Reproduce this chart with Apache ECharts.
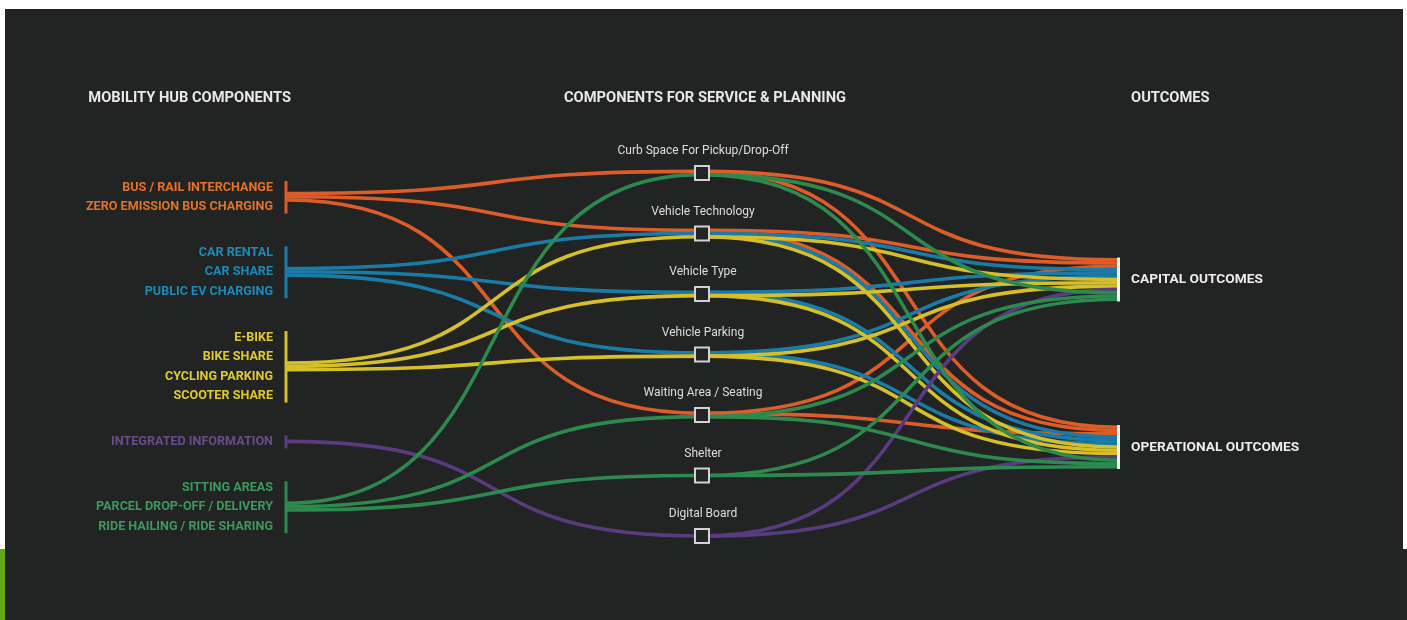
<!DOCTYPE html>
<html>
<head>
<meta charset="utf-8">
<title>Mobility hub components</title>
<script src="https://cdn.jsdelivr.net/npm/echarts@6/dist/echarts.min.js"></script>
<style>
  html, body { margin: 0; padding: 0; background: #ffffff; overflow: hidden; }
  #main { position: absolute; left: 5px; top: 9px; width: 1398px; height: 611px; }
  #edge { position: absolute; left: 0; top: 549px; width: 5px; height: 71px; background: #62a714; }
  #corner { position: absolute; left: 1403px; top: 549px; width: 4px; height: 71px; background: #222323; }
</style>
</head>
<body>
<div id="main"></div>
<div id="edge"></div>
<div id="corner"></div>
<script>
// left column: component groups and their items
var groupItems = [
    ['BUS / RAIL INTERCHANGE', 'ZERO EMISSION BUS CHARGING'],
    ['CAR RENTAL', 'CAR SHARE', 'PUBLIC EV CHARGING'],
    ['E-BIKE', 'BIKE SHARE', 'CYCLING PARKING', 'SCOOTER SHARE'],
    ['INTEGRATED INFORMATION'],
    ['SITTING AREAS', 'PARCEL DROP-OFF / DELIVERY', 'RIDE HAILING / RIDE SHARING']
];
// middle column
var components = [
    'Curb Space For Pickup/Drop-Off',
    'Vehicle Technology',
    'Vehicle Type',
    'Vehicle Parking',
    'Waiting Area / Seating',
    'Shelter',
    'Digital Board'
];
// which components each group feeds (index into components)
var groupLinks = [
    [0, 1, 4],
    [1, 2, 3],
    [1, 2, 3],
    [6],
    [0, 4, 5]
];
// right column, every strand ends in both
var outcomes = ['CAPITAL OUTCOMES', 'OPERATIONAL OUTCOMES'];
var headers = ['MOBILITY HUB COMPONENTS', 'COMPONENTS FOR SERVICE & PLANNING', 'OUTCOMES'];

var groupColors = ['#dc5d29', '#1a7ca6', '#d5bf2b', '#5a3b80', '#2d8a4e'];
var labelColors = ['#e3722b', '#1e8ab5', '#e0ca32', '#6a4c8a', '#3d995b'];

// layout (page pixels on the y axis)
var ROW_Y0 = 187, ROW_STEP = 19.5, GROUP_GAP = 26.3;
var COMP_Y0 = 173, COMP_STEP = 60.5;
var OUT_Y0 = 279.5, OUT_STEP = 167.5;
var HEADER_Y = 98.5;
var STRAND = 3.3;
var BEND = 0.6;

var row = 0;
var groupRows = groupItems.map(function (items, g) {
    return items.map(function () {
        return ROW_Y0 + (row++) * ROW_STEP + g * GROUP_GAP;
    });
});
var groupCenter = groupRows.map(function (r) { return (r[0] + r[r.length - 1]) / 2; });

var strands = [];
groupLinks.forEach(function (ks, g) {
    ks.forEach(function (k, j) {
        strands.push({ g: g, k: k, j: j, n: ks.length });
    });
});
strands.forEach(function (s, idx) {
    var at = strands.filter(function (t) { return t.k === s.k; });
    s.mi = at.indexOf(s);
    s.mn = at.length;
    s.oi = idx;
});

function midY(s) {
    return COMP_Y0 + s.k * COMP_STEP + (s.mi - (s.mn - 1) / 2) * STRAND;
}

var segments = [];
strands.forEach(function (s) {
    outcomes.forEach(function (o, oi) {
        var yOut = OUT_Y0 + oi * OUT_STEP + (s.oi - (strands.length - 1) / 2) * STRAND;
        segments.push([1, midY(s), 2, yOut, s.g]);
    });
});
strands.forEach(function (s) {
    var ySrc = groupCenter[s.g] + (s.j - (s.n - 1) / 2) * STRAND;
    segments.push([0, ySrc, 1, midY(s), s.g]);
});

function renderStrand(params, api) {
    var p0 = api.coord([api.value(0), api.value(1)]);
    var p1 = api.coord([api.value(2), api.value(3)]);
    var dx = p1[0] - p0[0];
    return {
        type: 'bezierCurve',
        shape: {
            x1: p0[0], y1: p0[1], x2: p1[0], y2: p1[1],
            cpx1: p0[0] + dx * BEND, cpy1: p0[1],
            cpx2: p1[0] - dx * BEND, cpy2: p1[1]
        },
        style: { stroke: groupColors[api.value(4)], lineWidth: STRAND + 0.3, fill: 'none' }
    };
}

function renderGroup(params, api) {
    var g = params.dataIndex;
    var rows = groupRows[g];
    var top = api.coord([0, rows[0] - 6]);
    var bot = api.coord([0, rows[rows.length - 1] + 7]);
    var children = [{
        type: 'rect',
        shape: { x: top[0] - 1.5, y: top[1], width: 3, height: bot[1] - top[1] },
        style: { fill: groupColors[g] }
    }];
    rows.forEach(function (y, i) {
        var p = api.coord([0, y]);
        children.push({
            type: 'text', x: p[0] - 13, y: p[1] + 0.5,
            style: {
                text: groupItems[g][i], fill: labelColors[g],
                font: 'bold 12.6px Roboto', align: 'right', verticalAlign: 'middle'
            }
        });
    });
    return { type: 'group', children: children };
}

function renderComponent(params, api) {
    var p = api.coord([api.value(0), api.value(1)]);
    return {
        type: 'group',
        children: [{
            type: 'rect',
            shape: { x: p[0] - 7, y: p[1] - 7, width: 14, height: 14 },
            style: { fill: '#232424', stroke: '#d2d2d2', lineWidth: 2 }
        }, {
            type: 'text', x: p[0] + 1, y: p[1] - 22,
            style: {
                text: components[params.dataIndex], fill: '#dedede',
                font: '12px Roboto', align: 'center', verticalAlign: 'middle'
            }
        }]
    };
}

function renderOutcome(params, api) {
    var p = api.coord([api.value(0), api.value(1)]);
    var half = strands.length * STRAND / 2;
    return {
        type: 'group',
        children: [{
            type: 'rect',
            shape: { x: p[0] - 1, y: p[1] - half - 0.5, width: 3, height: half * 2 + 1 },
            style: { fill: '#f2f2f2' }
        }, {
            type: 'text', x: p[0] + 13, y: p[1] + 0.5,
            style: {
                text: outcomes[params.dataIndex], fill: '#ececec',
                font: 'bold 13.7px Roboto', align: 'left', verticalAlign: 'middle'
            }
        }]
    };
}

function renderHeader(params, api) {
    var p = api.coord([api.value(0), api.value(1)]);
    var i = params.dataIndex;
    var align = ['right', 'center', 'left'][i];
    var shift = [5, 3, 13][i];
    return {
        type: 'text', x: p[0] + shift, y: p[1],
        style: {
            text: headers[i], fill: '#e8e8e8',
            font: 'bold 14.7px Roboto', align: align, verticalAlign: 'middle'
        }
    };
}

var chart = echarts.init(document.getElementById('main'));
chart.setOption({
    backgroundColor: '#222323',
    animation: false,
    grid: { left: 281, right: 285, top: 0, bottom: 0 },
    xAxis: { type: 'value', min: 0, max: 2, show: false },
    yAxis: { type: 'value', min: 9, max: 620, inverse: true, show: false },
    series: [{
        type: 'custom', name: 'strands', clip: false, silent: true,
        renderItem: renderStrand,
        encode: { x: [0, 2], y: [1, 3] },
        data: segments
    }, {
        type: 'custom', name: 'groups', clip: false, silent: true,
        renderItem: renderGroup,
        data: groupCenter.map(function (y) { return [0, y]; })
    }, {
        type: 'custom', name: 'components', clip: false, silent: true,
        renderItem: renderComponent,
        data: components.map(function (c, k) { return [1, COMP_Y0 + k * COMP_STEP]; })
    }, {
        type: 'custom', name: 'outcomes', clip: false, silent: true,
        renderItem: renderOutcome,
        data: outcomes.map(function (o, i) { return [2, OUT_Y0 + i * OUT_STEP]; })
    }, {
        type: 'custom', name: 'headers', clip: false, silent: true,
        renderItem: renderHeader,
        data: headers.map(function (h, i) { return [i, HEADER_Y]; })
    }]
});
</script>
</body>
</html>
